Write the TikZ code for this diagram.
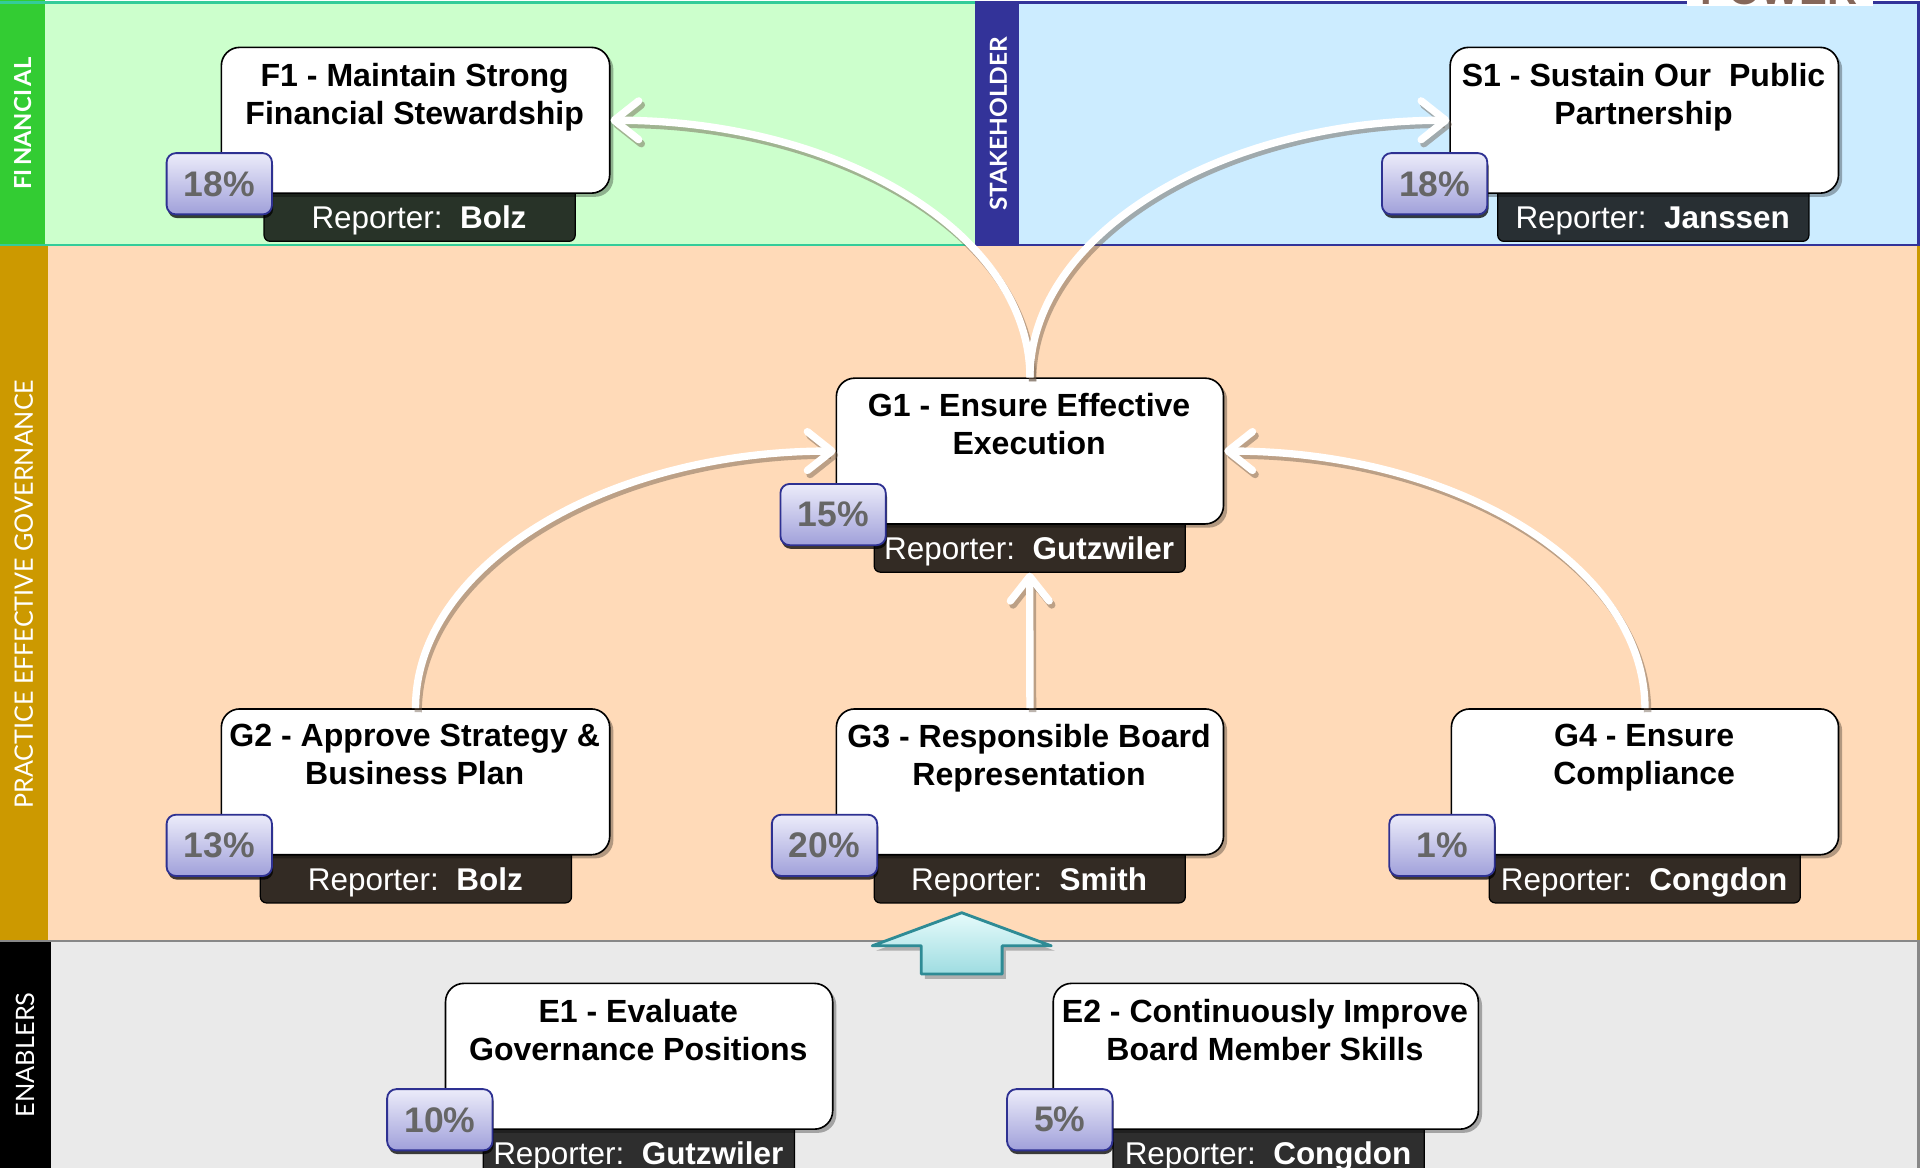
\documentclass[tikz,border=0pt]{standalone}
\usepackage{fontspec}
\usepackage{graphicx}
\setmainfont{Liberation Sans}
\newfontfamily\labelfont{Lato}
\usetikzlibrary{arrows.meta,shadows,calc}

\definecolor{finbg}{HTML}{CCFFCC}
\definecolor{finstrip}{HTML}{33CC33}
\definecolor{finline}{HTML}{33CC99}
\definecolor{stkbg}{HTML}{CCECFF}
\definecolor{stkstrip}{HTML}{333399}
\definecolor{govbg}{HTML}{FFDAB8}
\definecolor{govstrip}{HTML}{CC9900}
\definecolor{enbbg}{HTML}{EAEAEA}
\definecolor{enbline}{HTML}{888888}
\definecolor{pctgray}{HTML}{666666}
\definecolor{badgetop}{HTML}{ECECFA}
\definecolor{badgebot}{HTML}{A0A0DA}
\definecolor{badgeline}{HTML}{2E3192}
\definecolor{tealedge}{HTML}{2E8B95}
\definecolor{tealtop}{HTML}{E6FBFB}
\definecolor{tealbot}{HTML}{9EDCE1}
\definecolor{powerbrown}{HTML}{85675A}
\definecolor{arrowshade}{HTML}{6B5A4A}

\newcommand\objective[9]{%
  \pgfmathsetmacro\objw{(#4)-(#2)}%
  \node[repbar, minimum width=152.4pt, minimum height=29.7pt, anchor=north west] (#1-bar) at (#6,#3+109) {};
  \node[objbox, minimum width=\objw*0.6pt, minimum height=71.4pt, anchor=north west] (#1) at (#2,#3) {};
  \node[titletext, anchor=north] (#1-title) at (#2/2+#4/2,#3+13) {#5};
  \node[reptext] (#1-rep) at (#6+127,#3+148.5) {Reporter:\ \ \textbf{#9}};
  \node[badge] (#1-pct) at (#7+43,#3+112) {#8};
}

\begin{document}
\begin{tikzpicture}[x=0.6pt,y=-0.6pt,
  objbox/.style={draw=black, line width=0.8pt, fill=white, rounded corners=9pt, inner sep=0pt,
    drop shadow={shadow xshift=1.8pt, shadow yshift=-1.8pt, opacity=0.3, fill=black}},
  repbar/.style={fill=black, fill opacity=0.8, draw=black, line width=0.6pt, rounded corners=3pt, inner sep=0pt},
  badge/.style={draw=badgeline, line width=0.9pt, top color=badgetop, bottom color=badgebot,
    rounded corners=4.5pt, inner sep=0pt, minimum width=51.6pt, minimum height=30pt,
    font=\bfseries\fontsize{17.4}{20}\selectfont, text=pctgray,
    drop shadow={shadow xshift=0.6pt, shadow yshift=-1.8pt, opacity=0.75, fill=black}},
  titletext/.style={align=center, font=\bfseries\fontsize{15.7}{18.6}\selectfont, inner sep=0pt},
  reptext/.style={text=white, font=\fontsize{15.4}{18}\selectfont, inner sep=0pt, anchor=base},
  flow/.style={draw=white, line width=3.6pt, -{Straight Barb[length=12pt,width=19pt,round]}},
  flowshadow/.style={draw=arrowshade, draw opacity=0.45, line width=3.6pt, -{Straight Barb[length=12pt,width=19pt,round]},
    transform canvas={xshift=1.3pt,yshift=-2pt}},
  bandlabel/.style={text=white, rotate=90, inner sep=0pt},
]
\useasboundingbox (0,0) rectangle (1568,953);
\begin{scope}
\clip (0,0) rectangle (1568,953);
% governance band
\fill[govbg] (0,200) rectangle (1566,768);
\fill[govstrip] (0,200) rectangle (39,768);
\draw[govstrip, line width=1.8pt] (1566,200) -- (1566,768);
% enablers band
\fill[enbbg] (0,768) rectangle (1566,960);
\fill[black] (0,768) rectangle (42,960);
\draw[enbline, line width=1.2pt] (0,768) -- (1566,768) -- (1566,960);
% financial band
\fill[finbg] (0,2) rectangle (797,200);
\fill[finstrip] (0,0) rectangle (37,200);
\draw[finline, line width=1.1pt] (0,2) -- (797,2) (0,200) -- (797,200);
% stakeholder band
\fill[stkbg] (797,2) rectangle (1566,200);
\fill[stkstrip] (797,2) rectangle (832,200);
\draw[stkstrip, line width=1.2pt] (797,2) rectangle (1566,200);
% partially visible title
\fill[white] (1377,-5) rectangle (1529,4.5);
\node[anchor=base, inner sep=0pt, text=powerbrown, font=\bfseries\fontsize{20.4}{22}\selectfont] (powertxt) at (1452,3.8) {POWER};
\end{scope}

% band labels
\node[bandlabel] (labfin) at (18.5,101) {\resizebox{64.8pt}{8.4pt}{\labelfont\bfseries FI\kern1.5pt NANCI\kern1.5pt AL}};
\node[bandlabel] (labstk) at (815,101) {\resizebox{85.2pt}{8.4pt}{\labelfont\bfseries STAKEHOLDER}};
\node[bandlabel] (labgov) at (19.5,485) {\resizebox{210pt}{9pt}{\labelfont PRACTICE EFFECTIVE GOVERNANCE}};
\node[bandlabel] (labenb) at (20.5,861) {\resizebox{61.2pt}{9pt}{\labelfont ENABLERS}};

% big teal arrow
\fill[black, opacity=0.25] (788,749) -- (861,776) -- (821,776) -- (821,799) -- (755,799) -- (755,776) -- (715,776) -- cycle;
\draw[tealedge, line width=1.4pt, line join=round, top color=tealtop, bottom color=tealbot]
  (785,745) -- (858,772) -- (818,772) -- (818,795) -- (752,795) -- (752,772) -- (712,772) -- cycle;

% objectives
\objective{f1}{180}{38}{497}{F1 - Maintain Strong\\Financial Stewardship}{215}{136}{18\%}{Bolz}
\objective{s1}{1183}{38}{1500}{S1 - Sustain Our\ \ Public\\Partnership}{1222}{1128}{18\%}{Janssen}
\objective{g1}{682}{308}{998}{G1 - Ensure Effective\\Execution}{713}{637}{15\%}{Gutzwiler}
\objective{g2}{180}{578}{497}{G2 - Approve Strategy \&\\Business Plan}{212}{136}{13\%}{Bolz}
\objective{g3}{682}{578}{998}{G3 - Responsible Board\\Representation}{713}{630}{20\%}{Smith}
\objective{g4}{1184}{578}{1500}{G4 - Ensure\\Compliance}{1215}{1134}{1\%}{Congdon}
\objective{e1}{363}{802}{679}{E1 - Evaluate\\Governance Positions}{394}{316}{10\%}{Gutzwiler}
\objective{e2}{859}{802}{1206}{E2 - Continuously Improve\\Board Member Skills}{908}{822}{5\%}{Congdon}

% connectors
\foreach \s in {flowshadow,flow}{
  \draw[\s] (g1.north) .. controls +(0,-116) and +(189,0) .. (f1.east);
  \draw[\s] (g1.north) .. controls +(0,-116) and +(-189,0) .. (s1.west);
  \draw[\s] (g2.north) .. controls +(0,-116) and +(-189,0) .. (g1.west);
  \draw[\s] (g4.north) .. controls +(0,-116) and +(189,0) .. (g1.east);
  \draw[\s] (g3.north) -- (g1-bar.south);
}
\end{tikzpicture}
\end{document}
